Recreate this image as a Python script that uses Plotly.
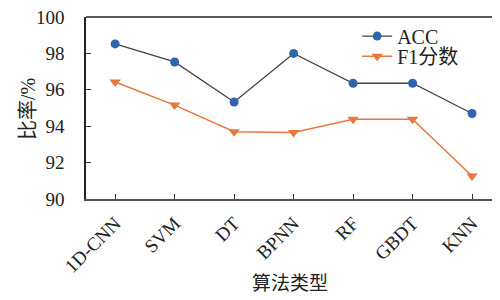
import plotly.graph_objects as go

categories = ["1D-CNN", "SVM", "DT", "BPNN", "RF", "GBDT", "KNN"]
acc = [98.52, 97.53, 95.33, 98.0, 96.36, 96.36, 94.7]
f1 = [96.43, 95.16, 93.7, 93.66, 94.38, 94.38, 91.26]

FONT = "Liberation Serif, Times New Roman, Noto Sans CJK SC, serif"

fig = go.Figure()
fig.add_trace(go.Scatter(
    x=list(range(len(categories))), y=acc, name="ACC", mode="lines+markers",
    line=dict(color="#454545", width=1.3),
    marker=dict(symbol="circle", size=9, color="#2F64AE"),
    legend="legend",
))
fig.add_trace(go.Scatter(
    x=list(range(len(categories))), y=f1, name="F1分数", mode="lines+markers",
    line=dict(color="#E8773D", width=1.5),
    marker=dict(symbol="triangle-down", size=10, color="#E8773D"),
    legend="legend2",
))

leg_common = dict(xanchor="left", yanchor="middle", bgcolor="rgba(0,0,0,0)",
                  font=dict(size=20, family=FONT, color="#222"),
                  borderwidth=0)

fig.update_layout(
    width=492, height=292,
    margin=dict(l=78, r=0, t=9, b=101),
    paper_bgcolor="white", plot_bgcolor="white",
    font=dict(family=FONT, size=18, color="#222"),
    showlegend=True,
    legend=dict(x=0.655, y=0.895, **leg_common),
    legend2=dict(x=0.655, y=0.785, **leg_common),
    xaxis=dict(
        range=[-0.49, 6.47], tickmode="array",
        tickvals=list(range(len(categories))), ticktext=categories,
        tickangle=-45, ticks="inside", ticklen=5, tickcolor="#333",
        showline=True, linecolor="#555", linewidth=1.5, showgrid=False,
        zeroline=False, tickfont=dict(size=19, family=FONT),
        automargin=False, ticklabelstandoff=4, ticklabeloverflow="allow",
    ),
    yaxis=dict(
        range=[90, 100], dtick=2, ticks="inside", ticklen=5, tickcolor="#333",
        showline=True, linecolor="#222", linewidth=1.5, showgrid=False,
        zeroline=False, tickfont=dict(size=19, family=FONT),
        automargin=False, ticklabelstandoff=16, ticklabeloverflow="allow",
    ),
    annotations=[
        dict(text="比率/%", xref="paper", yref="paper", x=-0.14, y=0.495,
             xanchor="center", yanchor="middle", textangle=-90, showarrow=False,
             font=dict(size=20, family=FONT, color="#222")),
        dict(text="算法类型", xref="paper", yref="paper", x=0.493, y=-0.467,
             xanchor="center", yanchor="middle", showarrow=False,
             font=dict(size=19, family=FONT, color="#222")),
    ],
    shapes=[dict(type="line", xref="paper", yref="paper", x0=0, x1=1, y0=1, y1=1,
                 line=dict(color="#222", width=1.5))],
)

fig.write_html("out.html")
